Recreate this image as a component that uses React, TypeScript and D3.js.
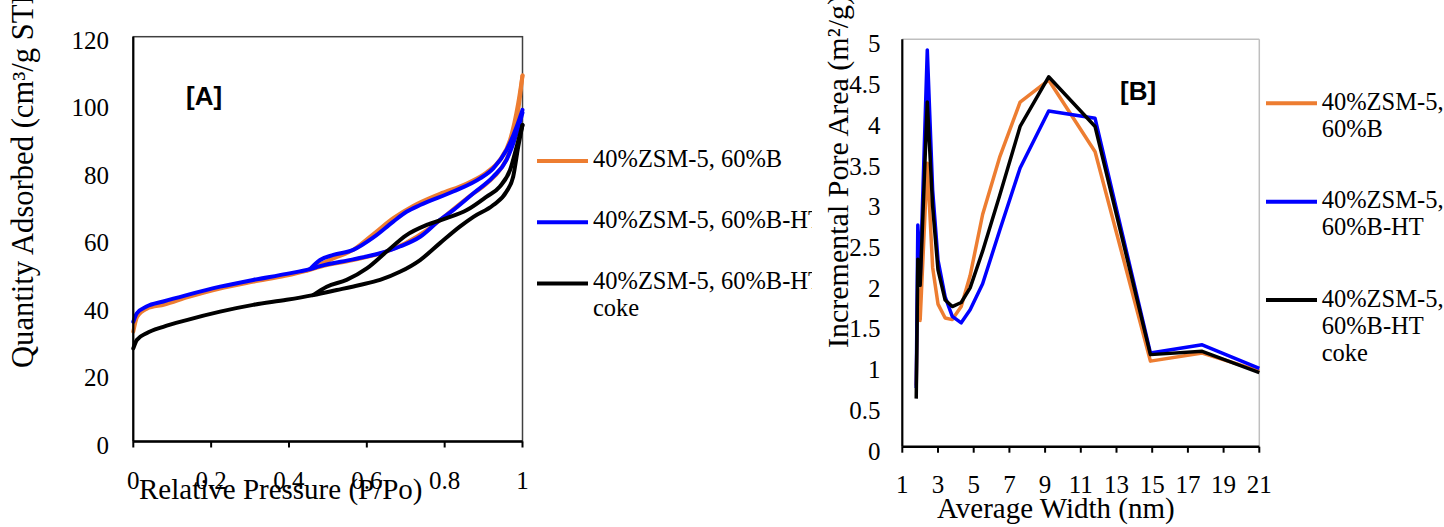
import React from "react";
import * as d3 from "d3";

const SERIF = '"Liberation Serif", "Times New Roman", serif';
const SANS = '"Liberation Sans", Arial, sans-serif';

const seriesColors = ["#ED7D31", "#0000FF", "#000000"];

// [A] N2 isotherms: [P/Po, quantity adsorbed]
const adsB: [number, number][] = [
  [0, 32.6], [0.01, 37], [0.035, 39.4], [0.08, 40.6], [0.14, 42.8], [0.22, 45.3],
  [0.31, 47.4], [0.39, 49.1], [0.445, 50.6], [0.48, 51.8], [0.565, 53.8], [0.65, 56.3],
  [0.7, 58.8], [0.755, 62.7], [0.805, 67.2], [0.857, 72.1], [0.908, 76.5], [0.942, 80.5],
  [0.968, 86.4], [0.989, 98.3], [1.0, 108.5],
];
const desB: [number, number][] = [
  [0.445, 50.6], [0.514, 54.3], [0.565, 56.8], [0.617, 61.5], [0.668, 66.2], [0.719, 69.8],
  [0.788, 73.4], [0.857, 76.5], [0.908, 79.8], [0.942, 83.5], [0.968, 89.4], [0.989, 100.3],
  [1.0, 108.5],
];
const adsHT: [number, number][] = [
  [0, 35.5], [0.009, 38], [0.034, 40], [0.077, 41.5], [0.137, 43.4], [0.223, 45.9],
  [0.308, 47.9], [0.394, 49.7], [0.454, 51.1], [0.48, 52], [0.565, 54], [0.634, 55.8],
  [0.685, 57.8], [0.737, 60.7], [0.788, 65.7], [0.822, 68.6], [0.874, 73.6], [0.925, 78.5],
  [0.959, 83.5], [0.985, 91.4], [1.0, 97.5],
];
const desHT: [number, number][] = [
  [0.454, 51.1], [0.48, 53.8], [0.514, 55.3], [0.565, 56.8], [0.617, 60.5], [0.668, 65.2],
  [0.702, 68.1], [0.737, 70.1], [0.822, 74.1], [0.891, 78], [0.925, 81], [0.959, 86.4],
  [0.985, 93.3], [1.0, 98.3],
];
const adsCoke: [number, number][] = [
  [0, 27.6], [0.009, 30.1], [0.034, 32.1], [0.077, 34], [0.137, 36], [0.223, 38.5],
  [0.308, 40.5], [0.394, 42], [0.462, 43.4], [0.523, 44.9], [0.582, 46.4], [0.634, 47.9],
  [0.685, 50.3], [0.737, 53.8], [0.788, 58.8], [0.839, 63.7], [0.874, 66.6], [0.925, 70.1],
  [0.959, 74.1], [0.976, 78.5], [0.989, 87.4], [1.0, 93.8],
];
const desCoke: [number, number][] = [
  [0.462, 43.4], [0.497, 45.9], [0.548, 47.9], [0.6, 51.3], [0.651, 56.3], [0.702, 61.2],
  [0.754, 64.2], [0.805, 66.2], [0.857, 68.6], [0.908, 72.6], [0.942, 75.6], [0.968, 80.5],
  [0.985, 87.4], [1.0, 93.8],
];

// [B] BJH incremental pore area vs average width (nm)
const widths = [1.78, 1.87, 2.0, 2.4, 2.7, 3.0, 3.4, 3.8, 4.3, 4.8, 5.5, 6.45, 7.6, 9.2, 11.8, 14.9, 17.8, 21];
const areaB = [0.75, 1.95, 1.55, 3.48, 2.2, 1.75, 1.58, 1.56, 1.72, 2.1, 2.85, 3.55, 4.23, 4.5, 3.62, 1.05, 1.15, 0.93];
const areaHT = [0.72, 2.72, 2.05, 4.87, 3.15, 2.29, 1.84, 1.6, 1.52, 1.68, 2.0, 2.65, 3.42, 4.12, 4.03, 1.15, 1.25, 0.96];
const areaCoke = [0.59, 2.3, 1.98, 4.23, 2.95, 2.17, 1.8, 1.72, 1.77, 1.95, 2.4, 3.08, 3.93, 4.54, 3.93, 1.13, 1.17, 0.91];

const ticksA_x = [0, 0.2, 0.4, 0.6, 0.8, 1];
const ticksA_y = [0, 20, 40, 60, 80, 100, 120];
const ticksB_x = [1, 3, 5, 7, 9, 11, 13, 15, 17, 19, 21];
const ticksB_y = [0, 0.5, 1, 1.5, 2, 2.5, 3, 3.5, 4, 4.5, 5];

const legendA = [["40%ZSM-5, 60%B"], ["40%ZSM-5, 60%B-HT"], ["40%ZSM-5, 60%B-HT", "coke"]];
const legendB = [["40%ZSM-5,", "60%B"], ["40%ZSM-5,", "60%B-HT"], ["40%ZSM-5,", "60%B-HT", "coke"]];

export default function App() {
  const xA = d3.scaleLinear().domain([0, 1]).range([133.3, 522.5]);
  const yA = d3.scaleLinear().domain([0, 120]).range([441.5, 36.7]);
  const xB = d3.scaleLinear().domain([1, 21]).range([902.3, 1259.3]);
  const yB = d3.scaleLinear().domain([0, 5]).range([446.7, 39.3]);

  const lineA = d3
    .line<[number, number]>()
    .x((d) => xA(d[0]))
    .y((d) => yA(d[1]))
    .curve(d3.curveMonotoneX);
  const lineB = d3
    .line<number>()
    .x((d, i) => xB(widths[i]))
    .y((d) => yB(d));

  const isotherms = [
    [adsB, desB],
    [adsHT, desHT],
    [adsCoke, desCoke],
  ];
  const poreAreas = [areaB, areaHT, areaCoke];

  return (
    <svg
      width={1444}
      height={527}
      style={{ position: "absolute", left: 0, top: 0, background: "#fff" }}
      fontFamily={SERIF}
    >
      <defs>
        <clipPath id="legA-clip">
          <rect x={520} y={100} width={292} height={260} />
        </clipPath>
      </defs>

      {/* ---------- panel A ---------- */}
      <rect x={xA(0)} y={yA(120)} width={xA(1) - xA(0)} height={yA(0) - yA(120)} fill="none" stroke="#404040" strokeWidth={1.5} />
      {isotherms.map((branches, i) =>
        branches.map((pts, j) => (
          <path key={`a${i}${j}`} d={lineA(pts) || ""} fill="none" stroke={seriesColors[i]} strokeWidth={4} strokeLinecap="round" />
        ))
      )}
      <line x1={xA(0)} x2={xA(0)} y1={yA(120)} y2={yA(0)} stroke="#000" strokeWidth={2.2} />
      <line x1={xA(0)} x2={xA(1)} y1={yA(0)} y2={yA(0)} stroke="#000" strokeWidth={2.6} />
      {ticksA_x.map((t) => (
        <g key={`ax${t}`}>
          <line x1={xA(t)} x2={xA(t)} y1={yA(0)} y2={yA(0) + 6} stroke="#000" strokeWidth={2} />
          <text x={xA(t)} y={yA(0) + 47.5} fontSize={25} textAnchor="middle">{t}</text>
        </g>
      ))}
      {ticksA_y.map((t) => (
        <text key={`ay${t}`} x={109} y={yA(t) + 12} fontSize={25} textAnchor="end">{t}</text>
      ))}
      <text x={139} y={499} fontSize={29}>Relative Pressure (P/Po)</text>
      <text transform="translate(33,368) rotate(-90)" fontSize={30.6}>Quantity Adsorbed (cm³/g STP)</text>
      <text x={186} y={104.5} fontSize={26} fontWeight="bold" fontFamily={SANS}>[A]</text>

      {/* legend A */}
      <g clipPath="url(#legA-clip)">
        {legendA.map((lines, i) => {
          const ly = 161 + i * 61.2;
          return (
            <g key={`la${i}`}>
              <line x1={537} x2={588} y1={ly} y2={ly} stroke={seriesColors[i]} strokeWidth={4} />
              {lines.map((s, k) => (
                <text key={k} x={593} y={ly + 6 + k * 27} fontSize={24.5}>{s}</text>
              ))}
            </g>
          );
        })}
      </g>

      {/* ---------- panel B ---------- */}
      <line x1={xB(1)} x2={xB(21)} y1={yB(5)} y2={yB(5)} stroke="#bfbfbf" strokeWidth={1.5} />
      <line x1={xB(21)} x2={xB(21)} y1={yB(5)} y2={yB(0)} stroke="#bfbfbf" strokeWidth={1.5} />
      {poreAreas.map((vals, i) => (
        <path key={`b${i}`} d={lineB(vals) || ""} fill="none" stroke={seriesColors[i]} strokeWidth={3.5} strokeLinejoin="round" />
      ))}
      <line x1={xB(1)} x2={xB(1)} y1={yB(5)} y2={yB(0)} stroke="#000" strokeWidth={2.2} />
      <line x1={xB(1)} x2={xB(21)} y1={yB(0)} y2={yB(0)} stroke="#000" strokeWidth={2.6} />
      {ticksB_x.map((t) => (
        <g key={`bx${t}`}>
          <line x1={xB(t)} x2={xB(t)} y1={yB(0)} y2={yB(0) + 6} stroke="#000" strokeWidth={2} />
          <text x={xB(t)} y={yB(0) + 46.6} fontSize={25} textAnchor="middle">{t}</text>
        </g>
      ))}
      {ticksB_y.map((t) => (
        <text key={`by${t}`} x={880.5} y={yB(t) + 13} fontSize={25} textAnchor="end">{t}</text>
      ))}
      <text x={937} y={518} fontSize={29}>Average Width (nm)</text>
      <text transform="translate(848,348) rotate(-90)" fontSize={30}>Incremental Pore Area (m²/g)</text>
      <text x={1120} y={99.5} fontSize={26} fontWeight="bold" fontFamily={SANS}>[B]</text>

      {/* legend B */}
      {legendB.map((lines, i) => {
        const ly = 103.3 + i * 98.35;
        return (
          <g key={`lb${i}`}>
            <line x1={1266} x2={1317} y1={ly} y2={ly} stroke={seriesColors[i]} strokeWidth={4} />
            {lines.map((s, k) => (
              <text key={k} x={1321.7} y={ly + 6.5 + k * 27} fontSize={24.5}>{s}</text>
            ))}
          </g>
        );
      })}
    </svg>
  );
}
